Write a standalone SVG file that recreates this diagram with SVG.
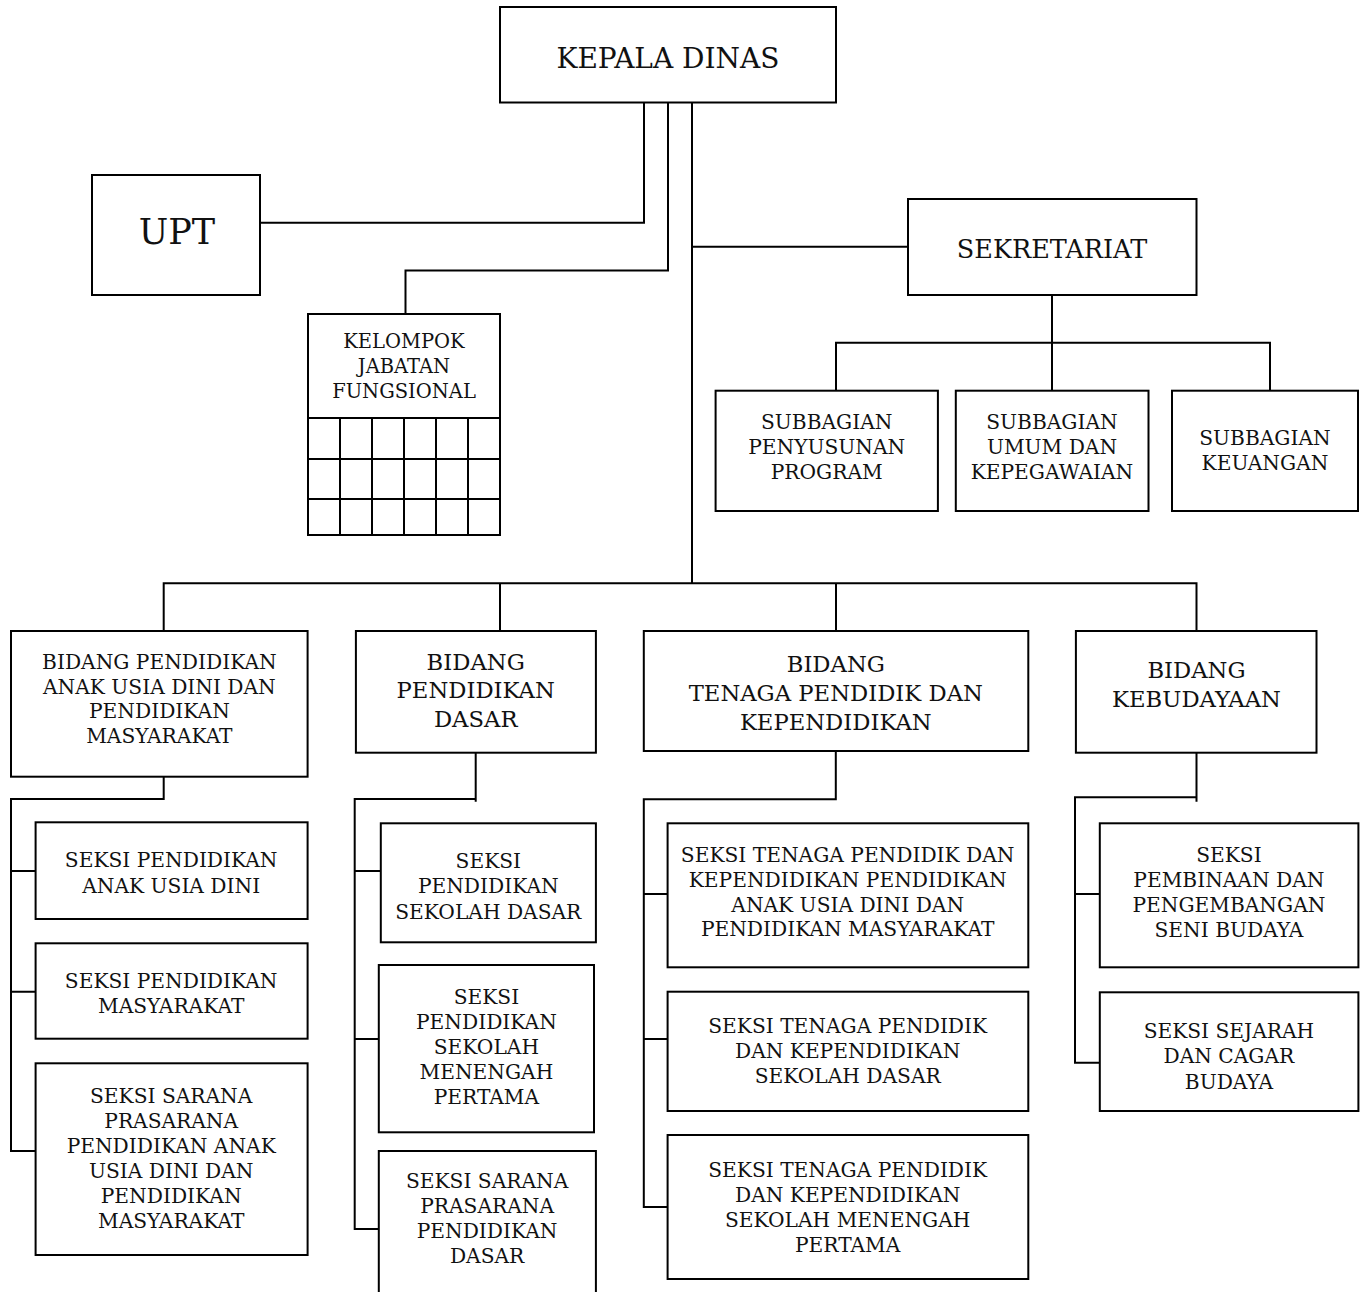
<svg xmlns="http://www.w3.org/2000/svg" width="1367" height="1292" viewBox="0 0 1367 1292">
<style>
rect{fill:#fff;stroke:#000;stroke-width:2}
.c{fill:none;stroke:#000;stroke-width:2}
text{font-family:"DejaVu Serif","Liberation Serif",serif;fill:#111;text-anchor:middle}
.s{font-size:20.2px}
.m{font-size:22.7px}
.l{font-size:25.5px}
</style>
<rect x="0" y="0" width="1367" height="1292" style="stroke:none"/>
<g id="connectors">
<path class="c" d="M644,103V222.7H261"/>
<path class="c" d="M668,103V270.5H405.5V314"/>
<path class="c" d="M692,103V583.3"/>
<path class="c" d="M692,246.7H908"/>
<path class="c" d="M1052,295V342.7M836,391V342.7H1270V391M1052,342.7V391"/>
<path class="c" d="M163.7,631V583.3H1196.5V631M500,583.3V631M836,583.3V631"/>
<path class="c" d="M163.7,777V799H11V1151H35.6M11,871H35.6M11,991.7H35.6"/>
<path class="c" d="M475.7,753V801.7M475.7,799H354.7V1229H378.8M354.7,871H380.8M354.7,1039H378.8"/>
<path class="c" d="M835.8,751V799.3H643.8V1207H667.6M643.8,894H667.6M643.8,1039H667.6"/>
<path class="c" d="M1196.5,753V801.7M1196.5,797.3H1075V1062.7H1099.8M1075,894H1099.8"/>
</g>
<g id="kepala-dinas">
<rect x="500" y="7" width="336" height="95.5"/>
<text x="668" y="68" style="font-size:28px">KEPALA DINAS</text>
</g>
<g id="upt">
<rect x="92" y="175" width="168" height="120"/>
<text x="177" y="244" style="font-size:35px">UPT</text>
</g>
<g id="kelompok">
<rect x="308" y="314" width="192" height="221"/>
<path class="c" d="M308,418H500M308,459H500M308,499H500M340,418V535M372,418V535M404,418V535M436,418V535M468,418V535"/>
<text x="404" y="348" style="font-size:19.5px">KELOMPOK</text>
<text x="404" y="373" style="font-size:19.5px">JABATAN</text>
<text x="404" y="398" style="font-size:19.5px">FUNGSIONAL</text>
</g>
<g id="sekretariat">
<rect x="908" y="199" width="288.5" height="96"/>
<text class="l" x="1052" y="257.7">SEKRETARIAT</text>
</g>
<g id="sub-penyusunan">
<rect x="715.6" y="390.7" width="222.3" height="120.3"/>
<text class="s" x="826.7" y="429.3">SUBBAGIAN</text>
<text class="s" x="826.7" y="454.3">PENYUSUNAN</text>
<text class="s" x="826.7" y="478.7">PROGRAM</text>
</g>
<g id="sub-umum">
<rect x="955.8" y="390.7" width="192.7" height="120.3"/>
<text class="s" x="1052" y="429.3">SUBBAGIAN</text>
<text class="s" x="1052" y="454.3">UMUM DAN</text>
<text class="s" x="1052" y="478.7">KEPEGAWAIAN</text>
</g>
<g id="sub-keuangan">
<rect x="1172" y="390.7" width="186" height="120.3"/>
<text class="s" x="1265" y="445">SUBBAGIAN</text>
<text class="s" x="1265" y="470">KEUANGAN</text>
</g>
<g id="bidang-paud">
<rect x="11" y="631" width="296.6" height="145.7"/>
<text class="s" x="159.4" y="669.3">BIDANG PENDIDIKAN</text>
<text class="s" x="159.4" y="693.5">ANAK USIA DINI DAN</text>
<text class="s" x="159.4" y="717.7">PENDIDIKAN</text>
<text class="s" x="159.4" y="743">MASYARAKAT</text>
</g>
<g id="bidang-dasar">
<rect x="355.9" y="631" width="240" height="121.7"/>
<text class="m" x="475.7" y="670">BIDANG</text>
<text class="m" x="475.7" y="697.7">PENDIDIKAN</text>
<text class="m" x="475.7" y="726.7">DASAR</text>
</g>
<g id="bidang-tenaga">
<rect x="643.8" y="631" width="384.5" height="120"/>
<text class="m" x="835.8" y="672.3">BIDANG</text>
<text class="m" x="835.8" y="700.7">TENAGA PENDIDIK DAN</text>
<text class="m" x="835.8" y="730">KEPENDIDIKAN</text>
</g>
<g id="bidang-kebudayaan">
<rect x="1075.9" y="631" width="240.6" height="121.7"/>
<text class="m" x="1196.5" y="677.7">BIDANG</text>
<text class="m" x="1196.5" y="706.7">KEBUDAYAAN</text>
</g>
<g id="seksi-paud">
<rect x="35.6" y="822.3" width="272" height="96.7"/>
<text class="s" x="171.2" y="866.7">SEKSI PENDIDIKAN</text>
<text class="s" x="171.2" y="892.7">ANAK USIA DINI</text>
</g>
<g id="seksi-masyarakat">
<rect x="35.6" y="943.3" width="272" height="95.4"/>
<text class="s" x="171.2" y="988.3">SEKSI PENDIDIKAN</text>
<text class="s" x="171.2" y="1013.3">MASYARAKAT</text>
</g>
<g id="seksi-sarana-paud">
<rect x="35.6" y="1063.3" width="272" height="191.7"/>
<text class="s" x="171.2" y="1102.7">SEKSI SARANA</text>
<text class="s" x="171.2" y="1127.7">PRASARANA</text>
<text class="s" x="171.2" y="1152.7">PENDIDIKAN ANAK</text>
<text class="s" x="171.2" y="1177.7">USIA DINI DAN</text>
<text class="s" x="171.2" y="1202.7">PENDIDIKAN</text>
<text class="s" x="171.2" y="1228.3">MASYARAKAT</text>
</g>
<g id="seksi-sd">
<rect x="380.8" y="823.3" width="215.1" height="119"/>
<text class="s" x="488.3" y="867.7">SEKSI</text>
<text class="s" x="488.3" y="893.3">PENDIDIKAN</text>
<text class="s" x="488.3" y="919">SEKOLAH DASAR</text>
</g>
<g id="seksi-smp">
<rect x="378.8" y="965" width="215.2" height="167.3"/>
<text class="s" x="486.4" y="1004">SEKSI</text>
<text class="s" x="486.4" y="1029.3">PENDIDIKAN</text>
<text class="s" x="486.4" y="1054">SEKOLAH</text>
<text class="s" x="486.4" y="1079.3">MENENGAH</text>
<text class="s" x="486.4" y="1104.3">PERTAMA</text>
</g>
<g id="seksi-sarana-dasar">
<rect x="378.8" y="1151" width="217.1" height="160"/>
<text class="s" x="487.1" y="1188.3">SEKSI SARANA</text>
<text class="s" x="487.1" y="1213.3">PRASARANA</text>
<text class="s" x="487.1" y="1238.3">PENDIDIKAN</text>
<text class="s" x="487.1" y="1263.3">DASAR</text>
</g>
<g id="seksi-tp-paud">
<rect x="667.6" y="823.3" width="360.7" height="144"/>
<text class="s" x="847.7" y="861.7">SEKSI TENAGA PENDIDIK DAN</text>
<text class="s" x="847.7" y="886.7">KEPENDIDIKAN PENDIDIKAN</text>
<text class="s" x="847.7" y="911.7">ANAK USIA DINI DAN</text>
<text class="s" x="847.7" y="935.7">PENDIDIKAN MASYARAKAT</text>
</g>
<g id="seksi-tp-sd">
<rect x="667.6" y="991.7" width="360.7" height="119.3"/>
<text class="s" x="847.7" y="1032.7">SEKSI TENAGA PENDIDIK</text>
<text class="s" x="847.7" y="1057.7">DAN KEPENDIDIKAN</text>
<text class="s" x="847.7" y="1083.3">SEKOLAH DASAR</text>
</g>
<g id="seksi-tp-smp">
<rect x="667.6" y="1135" width="360.7" height="144"/>
<text class="s" x="847.7" y="1176.7">SEKSI TENAGA PENDIDIK</text>
<text class="s" x="847.7" y="1201.7">DAN KEPENDIDIKAN</text>
<text class="s" x="847.7" y="1226.7">SEKOLAH MENENGAH</text>
<text class="s" x="847.7" y="1251.7">PERTAMA</text>
</g>
<g id="seksi-pembinaan">
<rect x="1099.8" y="823.3" width="258.6" height="144"/>
<text class="s" x="1228.9" y="861.7">SEKSI</text>
<text class="s" x="1228.9" y="886.7">PEMBINAAN DAN</text>
<text class="s" x="1228.9" y="911.7">PENGEMBANGAN</text>
<text class="s" x="1228.9" y="936.7">SENI BUDAYA</text>
</g>
<g id="seksi-sejarah">
<rect x="1099.8" y="992.3" width="258.6" height="118.7"/>
<text class="s" x="1228.9" y="1038.3">SEKSI SEJARAH</text>
<text class="s" x="1228.9" y="1063.3">DAN CAGAR</text>
<text class="s" x="1228.9" y="1089.3">BUDAYA</text>
</g>
</svg>
